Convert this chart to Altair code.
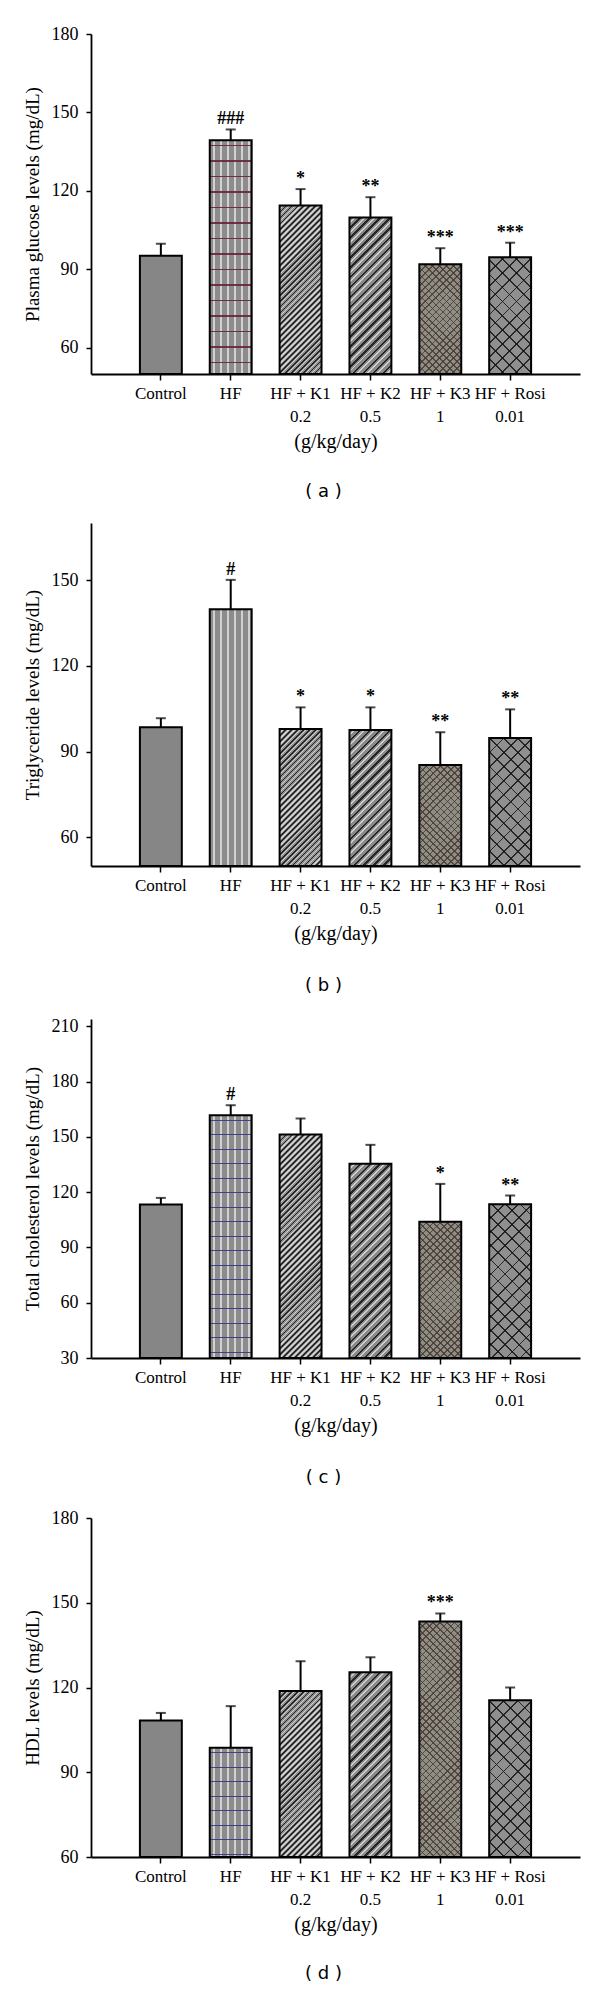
import math
import altair as alt
import pandas as pd

# ---------------- data ----------------
groups = ["Control", "HF", "HF + K1", "HF + K2", "HF + K3", "HF + Rosi"]
doses = ["", "", "0.2", "0.5", "1", "0.01"]

glucose_mean = [95.2, 139.4, 114.4, 109.8, 92.0, 94.6]
glucose_err = [4.6, 4.1, 6.3, 7.8, 6.1, 5.6]
glucose_sig = ["", "###", "*", "**", "***", "***"]

tg_mean = [98.5, 139.8, 97.9, 97.6, 85.3, 94.8]
tg_err = [3.2, 10.3, 7.6, 7.9, 11.5, 10.0]
tg_sig = ["", "#", "*", "*", "**", "**"]

tc_mean = [113.3, 161.8, 151.3, 135.4, 103.9, 113.5]
tc_err = [3.6, 5.4, 8.7, 10.3, 20.6, 4.7]
tc_sig = ["", "#", "", "", "*", "**"]

hdl_mean = [108.3, 98.7, 118.8, 125.4, 143.4, 115.5]
hdl_err = [2.7, 14.7, 10.5, 5.3, 2.8, 4.5]
hdl_sig = ["", "", "", "", "***", ""]

y_titles = ["Plasma glucose levels (mg/dL)", "Triglyceride levels (mg/dL)",
            "Total cholesterol levels (mg/dL)", "HDL levels (mg/dL)"]
captions = ["( a )", "( b )", "( c )", "( d )"]
x_title = "(g/kg/day)"

# ---------------- style ----------------
SERIF = "Liberation Serif"
SANS = "DejaVu Sans"
W_PLOT = 489
PAD_IN, PAD_OUT = 0.4, 0.7
BAR_W = (1 - PAD_IN) * W_PLOT / (len(groups) - PAD_IN + 2 * PAD_OUT)
CLEAR = "rgba(0,0,0,0)"
DARK = "rgba(20,20,20,0.85)"
LIGHT = "rgba(255,255,255,0.6)"
MAROON = "rgba(105,35,55,0.9)"
NAVY = "rgba(55,55,135,0.9)"
K3LINE = "rgba(70,55,45,0.8)"
base_fills = ["#868686", "#8c8c8c", "#8e8e8e", "#8a8a8a", "#8e8e86", "#8f8f8f"]


def stripe_gradient(kind, W, H, period, segs, phase=0.0):
    if kind == "h":
        L = H
        coords = dict(x1=0, y1=0, x2=0, y2=1)
    elif kind == "v":
        L = W
        coords = dict(x1=0, y1=0, x2=1, y2=0)
    else:
        k = (W + H) / (W * W + H * H)
        L = (W + H) / math.sqrt(2)
        if kind == "d1":
            coords = dict(x1=0, y1=0, x2=round(k * W, 6), y2=round(k * H, 6))
        else:
            coords = dict(x1=0, y1=1, x2=round(k * W, 6), y2=round(1 - k * H, 6))
    n = L / period
    stops = [{"offset": 0, "color": CLEAR}]
    i = -1
    while (i + phase) / n <= 1:
        b = i + phase
        for f0, f1, c in segs:
            t0, t1 = (b + f0) / n, (b + f1) / n
            if t1 <= 0 or t0 >= 1:
                continue
            t0, t1 = round(max(t0, 0), 6), round(min(t1, 1), 6)
            stops += [{"offset": t0, "color": CLEAR}, {"offset": t0, "color": c},
                      {"offset": t1, "color": c}, {"offset": t1, "color": CLEAR}]
        i += 1
    stops.append({"offset": 1, "color": CLEAR})
    return {"gradient": "linear", **coords, "stops": stops}


def patterns_for(panel_idx):
    hf = [("v", 7.0, [(0.0, 0.2, LIGHT)], 0.5)]
    if panel_idx == 0:
        hf.append(("h", 15.5, [(0.0, 0.09, MAROON)], 0.3))
    elif panel_idx in (2, 3):
        hf.append(("h", 14.5, [(0.0, 0.09, NAVY)], 0.3))
    return {
        "HF": hf,
        "HF + K1": [("d1", 4.2, [(0.0, 0.3, DARK), (0.5, 0.75, LIGHT)], 0.0)],
        "HF + K2": [("d1", 7.0, [(0.0, 0.25, DARK), (0.45, 0.65, LIGHT)], 0.0)],
        "HF + K3": [("d1", 5.0, [(0.0, 0.22, K3LINE)], 0.0),
                    ("d2", 5.0, [(0.0, 0.22, K3LINE)], 0.0)],
        "HF + Rosi": [("d1", 10.0, [(0.0, 0.12, DARK)], 0.0),
                      ("d2", 10.0, [(0.0, 0.12, DARK)], 0.0)],
    }


labels = [g if d == "" else g + "\n" + d for g, d in zip(groups, doses)]


def panel(idx, means, errs, sigs, dmin, dmax, ticks, height, cap_offset):
    df = pd.DataFrame({
        "group": groups,
        "label": labels,
        "mean": means,
        "upper": [m + e for m, e in zip(means, errs)],
        "sig": sigs,
    })
    xscale = alt.Scale(paddingInner=PAD_IN, paddingOuter=PAD_OUT)
    yscale = alt.Scale(domain=[dmin, dmax], nice=False, zero=False)
    x_axis = alt.Axis(
        title=x_title, labelAngle=0, labelExpr="split(datum.label, '\\n')",
        labelFont=SERIF, labelFontSize=17, labelColor="black", labelLineHeight=23,
        labelPadding=5, tickSize=6, tickWidth=1.5, tickColor="black",
        domainColor="black", domainWidth=1.8, titleFont=SERIF, titleFontSize=20,
        titleFontWeight="normal", titleColor="black", titlePadding=7, grid=False,
        labelBound=False, labelOverlap=False,
    )
    y_axis = alt.Axis(
        title=y_titles[idx], values=ticks, labelFont=SERIF, labelFontSize=18,
        labelColor="black", labelPadding=8, tickSize=5, tickWidth=1.5,
        tickColor="black", domainColor="black", domainWidth=1.8, titleFont=SERIF,
        titleFontSize=19, titleFontWeight="normal", titleColor="black",
        titlePadding=9, grid=False,
    )
    x = alt.X("label:N", sort=labels, scale=xscale, axis=x_axis)
    y = alt.Y("mean:Q", scale=yscale, axis=y_axis)
    yu = alt.Y("upper:Q", scale=yscale, axis=y_axis)

    layers = [
        alt.Chart(df).mark_bar(strokeOpacity=0).encode(
            x=x, y=y, y2=alt.datum(dmin),
            fill=alt.Fill("group:N", scale=alt.Scale(domain=groups, range=base_fills),
                          legend=None),
        )
    ]
    pats = patterns_for(idx)
    for gi, g in enumerate(groups):
        H = (means[gi] - dmin) / (dmax - dmin) * height
        for kind, period, segs, phase in pats.get(g, []):
            grad = stripe_gradient(kind, BAR_W, H, period, segs, phase)
            layers.append(
                alt.Chart(df).transform_filter(alt.datum.group == g)
                .mark_bar(fill=grad, strokeOpacity=0)
                .encode(x=x, y=y, y2=alt.datum(dmin))
            )
    layers += [
        alt.Chart(df).mark_bar(fillOpacity=0, stroke="black", strokeWidth=2).encode(
            x=x, y=y, y2=alt.datum(dmin)),
        alt.Chart(df).mark_rule(color="black", strokeWidth=2).encode(
            x=x, y=y, y2="upper:Q"),
        alt.Chart(df).mark_tick(color="black", thickness=2, size=10).encode(
            x=x, y=yu),
        alt.Chart(df).mark_text(font=SERIF, fontSize=18, fontWeight="bold",
                                baseline="alphabetic", dy=-5, color="black").encode(
            x=x, y=yu, text="sig:N"),
    ]
    return alt.layer(*layers).properties(
        width=W_PLOT, height=height,
        title=alt.TitleParams(text=captions[idx], orient="bottom", anchor="middle",
                              frame="group", font=SANS, fontSize=18,
                              fontWeight="normal", color="black",
                              offset=cap_offset, dx=-12),
    )


chart = alt.vconcat(
    panel(0, glucose_mean, glucose_err, glucose_sig, 50, 180,
          [60, 90, 120, 150, 180], 340, 32),
    panel(1, tg_mean, tg_err, tg_sig, 50, 170, [60, 90, 120, 150], 343, 34),
    panel(2, tc_mean, tc_err, tc_sig, 30, 214,
          [30, 60, 90, 120, 150, 180, 210], 339, 34),
    panel(3, hdl_mean, hdl_err, hdl_sig, 60, 180,
          [60, 90, 120, 150, 180], 339, 31),
    spacing=22,
).properties(
    padding={"left": 15, "top": 17, "right": 5, "bottom": 0},
    background="white",
).configure_view(stroke=None)

chart.save("out.html", embed_options={"renderer": "svg", "actions": False})
